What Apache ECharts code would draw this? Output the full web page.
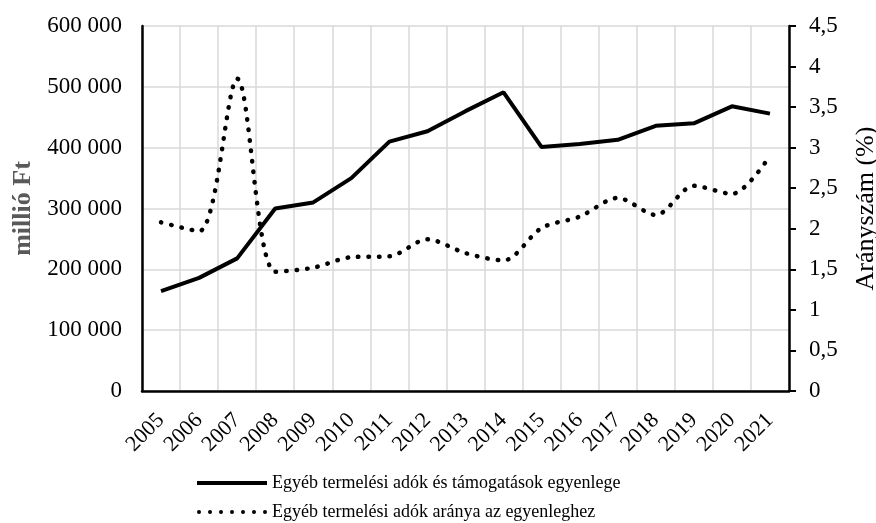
<!DOCTYPE html>
<html>
<head>
<meta charset="utf-8">
<script src="https://cdn.jsdelivr.net/npm/echarts@6/dist/echarts.min.js"></script>
<style>
  html, body { margin: 0; padding: 0; background: #fff; }
  #chart { width: 876px; height: 523px; }
</style>
</head>
<body>
<div id="chart"></div>
<script>
// évek
var years = ['2005', '2006', '2007', '2008', '2009', '2010', '2011', '2012', '2013',
             '2014', '2015', '2016', '2017', '2018', '2019', '2020', '2021'];
// egyenleg, millió Ft
var egyenleg = [164000, 186000, 218000, 300000, 310000, 350000, 410000, 427000, 460000,
                491000, 401000, 406000, 413000, 436000, 440000, 468000, 456000];
// arányszám, %
var arany = [2.08, 1.97, 3.85, 1.47, 1.52, 1.65, 1.66, 1.87, 1.70,
             1.61, 2.01, 2.15, 2.38, 2.17, 2.53, 2.43, 2.90];

var serieNames = ['Egyéb termelési adók és támogatások egyenlege',
                  'Egyéb termelési adók aránya az egyenleghez'];

var font = 'Liberation Serif';

// pontozott jelmagyarázat ikon (7 pötty)
var dotIcon = 'path://';
for (var i = 0; i < 7; i++) {
    var cx = 2 + i * 11;
    dotIcon += 'M' + (cx - 2) + ',2a2,2 0 1,0 4,0a2,2 0 1,0 -4,0';
}

function ezres(v) {
    return String(v).replace(/\B(?=(\d{3})+(?!\d))/g, ' ');
}
function tized(v) {
    return String(v).replace('.', ',');
}

var legendText = { fontFamily: font, fontSize: 18, color: '#000', lineHeight: 22 };

var myChart = echarts.init(document.getElementById('chart'));
myChart.setOption({
    animation: false,
    textStyle: { fontFamily: font },
    grid: { left: 142, right: 87, top: 26, bottom: 132, outerBoundsMode: 'none' },
    legend: [
        {
            left: 197, top: 472, padding: 0,
            itemWidth: 70, itemHeight: 4,
            textStyle: legendText,
            data: [{ name: serieNames[0], icon: 'rect' }]
        },
        {
            left: 197, top: 501, padding: 0,
            itemWidth: 70, itemHeight: 4,
            textStyle: legendText,
            data: [{ name: serieNames[1], icon: dotIcon }]
        }
    ],
    xAxis: {
        type: 'category',
        data: years,
        axisLine: { lineStyle: { color: '#000', width: 2.5 } },
        axisTick: { show: false },
        splitLine: { show: true, interval: 0, lineStyle: { color: '#d9d9d9', width: 1.5 } },
        axisLabel: { rotate: 45, interval: 0, fontSize: 22, color: '#000', fontFamily: font, margin: 26 }
    },
    yAxis: [
        {
            type: 'value',
            min: 0, max: 600000, interval: 100000,
            name: 'millió Ft',
            nameLocation: 'middle',
            nameGap: 100,
            nameTextStyle: { fontFamily: font, fontSize: 26, fontWeight: 'bold', color: '#595959' },
            axisLine: { show: true, lineStyle: { color: '#000', width: 2.5 } },
            axisTick: { show: false },
            splitLine: { lineStyle: { color: '#d9d9d9', width: 1.5 } },
            axisLabel: { formatter: ezres, fontSize: 23, color: '#000', fontFamily: font, margin: 20 }
        },
        {
            type: 'value',
            min: 0, max: 4.5, interval: 0.5,
            name: 'Arányszám (%)',
            nameLocation: 'middle',
            nameRotate: 90,
            nameGap: 64,
            nameTextStyle: { fontFamily: font, fontSize: 26, color: '#000' },
            axisLine: { show: true, lineStyle: { color: '#000', width: 2.5 } },
            axisTick: { show: true, length: 7, lineStyle: { color: '#000', width: 2 } },
            splitLine: { show: false },
            axisLabel: { formatter: tized, fontSize: 23, color: '#000', fontFamily: font, margin: 20 }
        }
    ],
    series: [
        {
            name: serieNames[0],
            type: 'line',
            yAxisIndex: 0,
            symbol: 'none',
            data: egyenleg,
            lineStyle: { color: '#000', width: 4 },
            itemStyle: { color: '#000' }
        },
        {
            name: serieNames[1],
            type: 'line',
            yAxisIndex: 1,
            symbol: 'none',
            smooth: 0.3,
            data: arany,
            lineStyle: { color: '#000', width: 4.5, type: [0.5, 10], cap: 'round' },
            itemStyle: { color: '#000' }
        }
    ]
});
</script>
</body>
</html>
